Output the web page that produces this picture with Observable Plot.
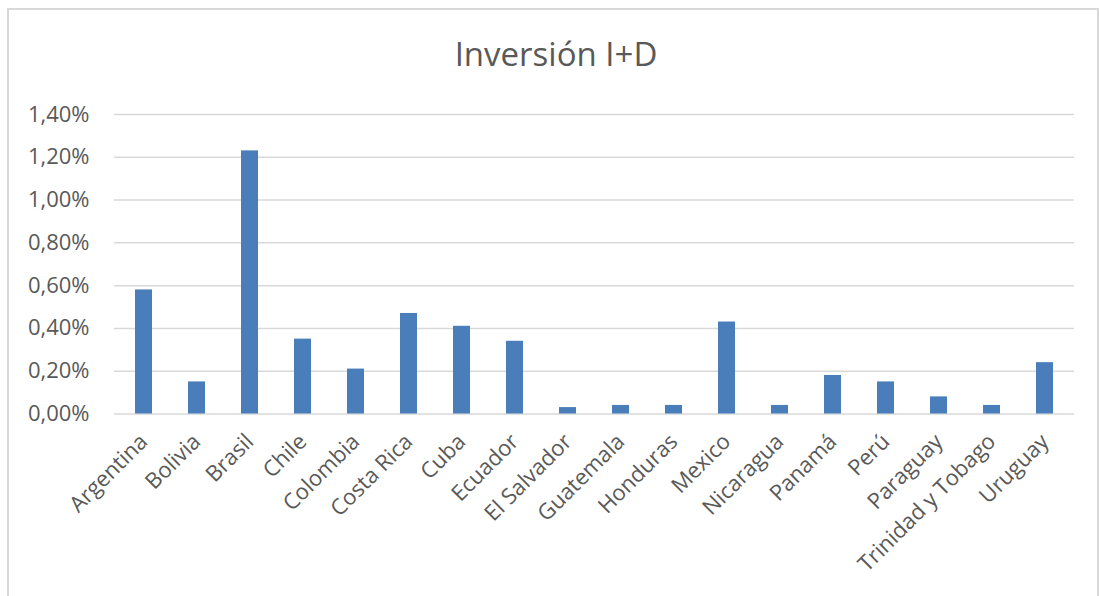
<!DOCTYPE html>
<html>
<head>
<meta charset="utf-8">
<script src="https://cdn.jsdelivr.net/npm/d3@7"></script>
<script src="https://cdn.jsdelivr.net/npm/@observablehq/plot@0.6"></script>
<style>
  html, body { margin: 0; padding: 0; background: #fff; width: 1099px; height: 596px; overflow: hidden; }
  body { position: relative; font-family: "Open Sans", sans-serif; }
  #frame { position: absolute; left: 7px; top: 8px; width: 1088px; height: 600px;
    border-left: 2px solid #d9d9d9; border-top: 2px solid #d9d9d9; border-right: 2px solid #d9d9d9; }
  #title { position: absolute; left: 0; width: 1112px; top: 32px; text-align: center;
    font-size: 33px; color: #595959; line-height: 44px; }
  #chart { position: absolute; left: 0; top: 90px; }
</style>
</head>
<body>
<div id="frame"></div>
<div id="title">Inversión I+D</div>
<div id="chart"></div>
<script>
const countries = ["Argentina","Bolivia","Brasil","Chile","Colombia","Costa Rica","Cuba","Ecuador","El Salvador","Guatemala","Honduras","Mexico","Nicaragua","Panamá","Perú","Paraguay","Trinidad y Tobago","Uruguay"];
const values = [0.58,0.15,1.23,0.35,0.21,0.47,0.41,0.34,0.03,0.04,0.04,0.43,0.04,0.18,0.15,0.08,0.04,0.24];
const yTicks = [0,0.2,0.4,0.6,0.8,1.0,1.2,1.4];

const data = countries.map((c, i) => ({country: c, value: values[i]}));
const fmt = d => d.toFixed(2).replace(".", ",") + "%";

const chart = Plot.plot({
  width: 1099,
  height: 506,
  marginLeft: 114,
  marginRight: 25,
  marginTop: 24,
  marginBottom: 182.5,
  style: {fontFamily: "Open Sans", fontSize: "22px", color: "#595959", background: "transparent"},
  x: {domain: countries, paddingInner: 0.68, paddingOuter: 0.34, label: null, tickSize: 0, tickRotate: -45, tickPadding: 24},
  y: {domain: [0, 1.4], ticks: yTicks, tickFormat: fmt, label: null, tickSize: 0, tickPadding: 25},
  marks: [
    Plot.gridY(yTicks, {stroke: "#d9d9d9", strokeOpacity: 1, strokeWidth: 1.5}),
    Plot.barY(data, {x: "country", y: "value", fill: "#4a7ebb"}),
    Plot.axisY({ticks: yTicks, tickFormat: fmt, tickSize: 0, tickPadding: 25, fontSize: 22, label: null}),
    Plot.axisX({tickSize: 0, tickRotate: -45, tickPadding: 24, fontSize: 22, label: null})
  ]
});
document.getElementById("chart").appendChild(chart);
</script>
</body>
</html>
